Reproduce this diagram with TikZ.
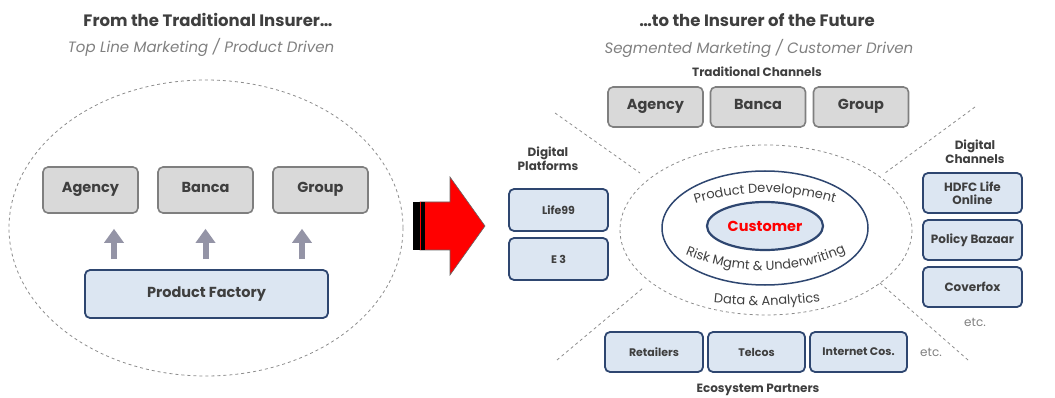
\documentclass[tikz,border=0pt]{standalone}
\usepackage{fontspec}
\setmainfont{Poppins}
\usepackage{xcolor}
\usepackage{tikz}
\usetikzlibrary{arrows.meta,decorations.text,shapes.geometric}

\definecolor{txt}{HTML}{3F3F3F}
\definecolor{subtxt}{HTML}{808080}
\definecolor{boxgray}{HTML}{7F7F7F}
\definecolor{boxfill}{HTML}{D9D9D9}
\definecolor{navy}{HTML}{2E4670}
\definecolor{lightblue}{HTML}{DCE6F2}
\definecolor{arrgray}{HTML}{9494A6}
\definecolor{dashgray}{HTML}{8C8C8C}

\tikzset{
  graybox/.style={rounded corners=5pt, draw=boxgray, line width=1.6pt, fill=boxfill, text=txt,
    font=\bfseries\fontsize{14.5}{16}\selectfont, inner sep=0pt, text height=0.72em, text depth=0.26em},
  bluebox/.style={rounded corners=5pt, draw=navy, line width=1.8pt, fill=lightblue, text=txt,
    font=\bfseries\fontsize{11}{13}\selectfont, align=center, inner sep=0pt},
  uparr/.style={arrgray, line width=6pt, -{Triangle[width=19pt,length=14pt]}},
  dashline/.style={dashgray, dashed, line width=0.8pt},
  grouplabel/.style={text=txt, font=\bfseries\fontsize{12}{14}\selectfont, align=center},
  curvetext/.style={decorate, decoration={text along path, text align=center,
    text={|\fontsize{13}{15}\selectfont\color{txt}|#1}}}
}

\begin{document}
\begin{tikzpicture}[x=1pt,y=-1pt]
\useasboundingbox (0,0) rectangle (1055,398);
\clip (0,0) rectangle (1055,398);

% left half
\node[text=txt, font=\bfseries\fontsize{16.5}{18}\selectfont] (lefttitle) at (208,20) {From the Traditional Insurer…};
\node[text=subtxt, font=\itshape\fontsize{15}{17}\selectfont] (leftsub) at (201,47) {Top Line Marketing / Product Driven};
\draw[dashline] (206,228) ellipse [x radius=197, y radius=148];

\node[graybox, minimum width=95pt, minimum height=46pt] (agency) at (90.5,190) {Agency};
\node[graybox, minimum width=95pt, minimum height=46pt] (banca) at (205.5,190) {Banca};
\node[graybox, minimum width=95pt, minimum height=46pt] (group) at (320.5,190) {Group};
\node[bluebox, minimum width=243pt, minimum height=48pt, font=\bfseries\fontsize{14.5}{16}\selectfont] (pf) at (206.5,294) {Product Factory};

\draw[uparr, shorten <=10pt, shorten >=15pt] ([xshift=23.5pt]agency.south |- pf.north) -- ([xshift=23.5pt]agency.south);
\draw[uparr, shorten <=10pt, shorten >=15pt] (banca.south |- pf.north) -- (banca.south);
\draw[uparr, shorten <=10pt, shorten >=15pt] ([xshift=-18.5pt]group.south |- pf.north) -- ([xshift=-18.5pt]group.south);

% big arrow
\filldraw[red, draw=black!60, line width=0.6pt] (420,202) -- (450,202) -- (450,177) -- (485,226) -- (450,275) -- (450,250) -- (420,250) -- cycle;
\fill[black] (413,202) rectangle (425,250);
\draw[red, line width=1.5pt] (420.5,202) -- (420.5,250);

% right half
\node[text=txt, font=\bfseries\fontsize{16.5}{18}\selectfont] (righttitle) at (757,20) {…to the Insurer of the Future};
\node[text=subtxt, font=\itshape\fontsize{15}{17}\selectfont] (rightsub) at (759,48) {Segmented Marketing / Customer Driven};

\draw[dashline] (555,113) -- (640,173);
\draw[dashline] (975,107) -- (885,173);
\draw[dashline] (557,360) -- (643,288);
\draw[dashline] (880,283) -- (968,360);
\draw[dashline] (766,230) ellipse [x radius=146, y radius=85];
\draw[navy, line width=1.5pt, fill=white] (765,228) ellipse [x radius=103, y radius=57];
\node[ellipse, draw=navy, line width=2.2pt, fill=lightblue, minimum width=116pt, minimum height=48pt,
  text=red, font=\bfseries\fontsize{14.5}{16}\selectfont, inner sep=0pt] (customer) at (765,226) {Customer};

\path[curvetext={Product Development}] (684,207) .. controls (738,188) and (792,188) .. (846,207);
\path[curvetext={Risk Mgmt {\&} Underwriting}] (678,251) .. controls (733,277) and (797,277) .. (853,249);
\path[curvetext={Data {\&} Analytics}] (700,301) .. controls (738,307) and (792,307) .. (834,299);

\node[grouplabel] (tradlabel) at (757,72) {Traditional Channels};
\node[graybox, minimum width=95pt, minimum height=40pt] (ragency) at (655.5,107) {Agency};
\node[graybox, minimum width=95pt, minimum height=40pt] (rbanca) at (758,107) {Banca};
\node[graybox, minimum width=95pt, minimum height=40pt] (rgroup) at (861,107) {Group};

\node[grouplabel] (platlabel) at (548,159) {Digital\\Platforms};
\node[bluebox, minimum width=99pt, minimum height=42pt] (life) at (558.5,210) {Life99};
\node[bluebox, minimum width=99pt, minimum height=42pt] (ethree) at (558.5,259) {E 3};

\node[grouplabel] (chanlabel) at (975,152) {Digital\\Channels};
\node[bluebox, minimum width=99pt, minimum height=40pt, font=\bfseries\fontsize{12}{13}\selectfont] (hdfc) at (972.5,193) {HDFC Life\\Online};
\node[bluebox, minimum width=99pt, minimum height=40pt, font=\bfseries\fontsize{12}{13}\selectfont] (pbazaar) at (972.5,240) {Policy Bazaar};
\node[bluebox, minimum width=99pt, minimum height=40pt, font=\bfseries\fontsize{12}{13}\selectfont] (coverfox) at (972.5,287) {Coverfox};
\node[text=subtxt, font=\fontsize{12}{14}\selectfont] (chanetc) at (975,322) {etc.};

\node[bluebox, minimum width=98pt, minimum height=40pt] (retail) at (654,352) {Retailers};
\node[bluebox, minimum width=97pt, minimum height=40pt] (telcos) at (756.5,352) {Telcos};
\node[bluebox, minimum width=97pt, minimum height=40pt] (netcos) at (858.5,352) {Internet Cos.};
\node[text=subtxt, font=\fontsize{12}{14}\selectfont] (ecoetc) at (931,352) {etc.};
\node[grouplabel] (ecolabel) at (758,390) {Ecosystem Partners};
\end{tikzpicture}
\end{document}
